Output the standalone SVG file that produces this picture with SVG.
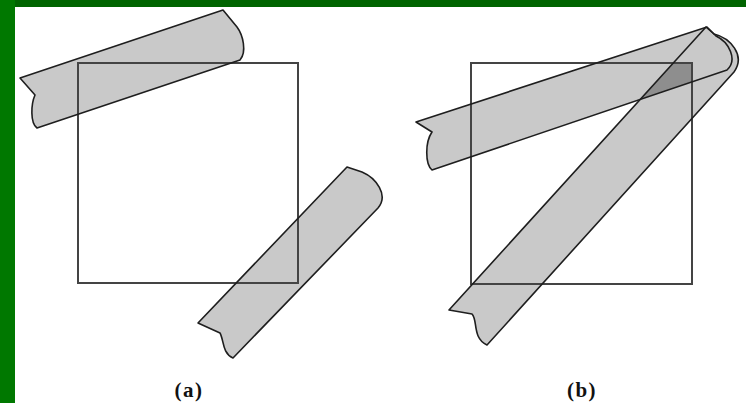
<svg xmlns="http://www.w3.org/2000/svg" width="746" height="403" viewBox="0 0 746 403">
<style>
.strip{fill:#c9c9c9;stroke:none}
.edge{fill:none;stroke:#1e1e1e;stroke-width:1.6;stroke-linejoin:round}
.sq{fill:none;stroke:#444;stroke-width:2}
.lbl{font-family:"Liberation Serif","DejaVu Serif",serif;font-size:21px;font-weight:bold;fill:#111;text-anchor:middle;letter-spacing:1.5px}
</style>
<defs>
<path id="a1" d="M20,78 L223,10 L237,27 C243,35 247,52 240,60 L37,128 C30,123 31,104 35,95 Z"/>
<path id="a2" d="M347,167 L362,172 C376,178 389,195 378,208 L233,358 C222,353 224,340 220,333 L198,323 Z"/>
<path id="bh" d="M416,122 L707,27 L716,36 C729,42 738,60 727,70 L432,170 C425,164 425,142 432,132 Z"/>
<path id="bd" d="M706,27 L449,310 L472,314 C478,320 472,338 487,345 L734,72 C746,55 730,38 714,34 Z"/>
<clipPath id="sqb"><rect x="471" y="63" width="221" height="221"/></clipPath>
<clipPath id="hclip"><use href="#bh"/></clipPath>
</defs>
<rect x="0" y="0" width="746" height="403" fill="#ffffff"/>
<rect x="0" y="0" width="746" height="7" fill="#006400"/>
<rect x="0" y="0" width="15" height="403" fill="#007800"/>

<g id="panel-a">
<g id="strip-a-top">
<use href="#a1" class="strip"/>
</g>
<g id="strip-a-bottom">
<use href="#a2" class="strip"/>
</g>
<g id="square-a">
<rect class="sq" x="78" y="63" width="220" height="220"/>
</g>
<use href="#a1" class="edge"/>
<use href="#a2" class="edge"/>
<text class="lbl" x="189" y="397">(a)</text>
</g>

<g id="panel-b">
<g id="strip-b-horizontal">
<use href="#bh" class="strip"/>
</g>
<g id="strip-b-diagonal">
<use href="#bd" class="strip"/>
</g>
<g id="overlap-b" clip-path="url(#sqb)">
<g clip-path="url(#hclip)">
<use href="#bd" fill="#8e8e8e"/>
</g>
</g>
<g id="square-b">
<rect class="sq" x="471" y="63" width="221" height="221"/>
</g>
<use href="#bh" class="edge"/>
<use href="#bd" class="edge"/>
<text class="lbl" x="582" y="397">(b)</text>
</g>
</svg>
